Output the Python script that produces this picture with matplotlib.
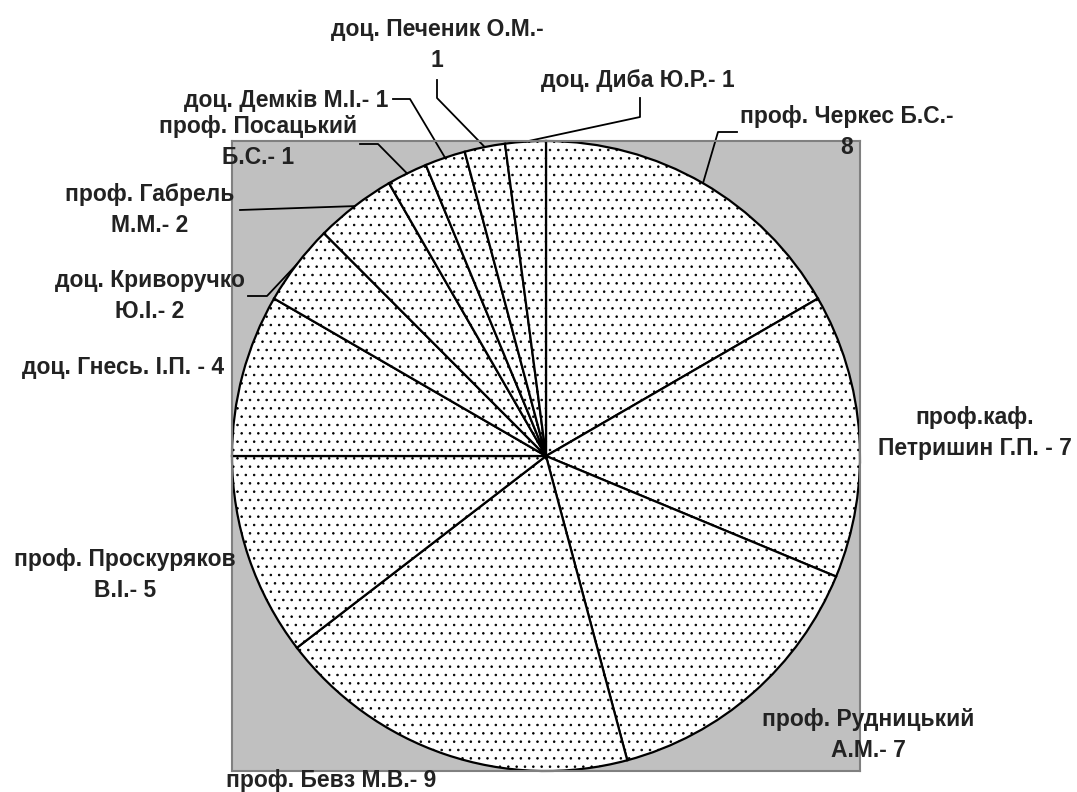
import numpy as np
import matplotlib
matplotlib.use("Agg")
import matplotlib.pyplot as plt

plt.rcParams['font.family'] = ['Liberation Sans', 'DejaVu Sans']
plt.rcParams['hatch.linewidth'] = 0.6

W, H = 1077, 792

names = ["проф. Черкес Б.С.-\n8",
         "проф.каф.\nПетришин Г.П. - 7",
         "проф. Рудницький\nА.М.- 7",
         "проф. Бевз М.В.- 9",
         "проф. Проскуряков\nВ.І.- 5",
         "доц. Гнесь. І.П. - 4",
         "доц. Криворучко\nЮ.І.- 2",
         "проф. Габрель\nМ.М.- 2",
         "проф. Посацький\nБ.С.- 1",
         "доц. Демків М.І.- 1",
         "доц. Печеник О.М.-\n1",
         "доц. Диба Ю.Р.- 1"]
values = [8, 7, 7, 9, 5, 4, 2, 2, 1, 1, 1, 1]

# label centres (pixels from top-left) and leader line points (text end, elbow)
label_pos = [(847, 132), (975, 433), (868, 735), (331, 780), (125, 575), (123, 367),
             (150, 296), (150, 210), (258, 142), (286, 100), (437, 45), (638, 80)]
leaders = {0: [(737, 132), (718, 132)],
           6: [(248, 296), (267, 296)],
           7: [(240, 210)],
           8: [(360, 144), (378, 144)],
           9: [(393, 99), (410, 99)],
           10: [(437, 80), (437, 98)],
           11: [(640, 98), (640, 117)]}

fig = plt.figure(figsize=(W / 100, H / 100), dpi=100)
ax = fig.add_axes([232 / W, 1 - 771 / H, 628 / W, 630 / H])

wedges, _ = ax.pie(values, startangle=90, counterclock=False, radius=1,
                   colors=['white'] * len(values), frame=True,
                   wedgeprops=dict(edgecolor='black', linewidth=1.6, hatch='..'))
ax.set_xlim(-1, 1)
ax.set_ylim(-1, 1)
ax.set_aspect('auto')
ax.set_facecolor('#c0c0c0')
for s in ax.spines.values():
    s.set_visible(True)
    s.set_color('#808080')
    s.set_linewidth(1.5)
ax.set_xticks([])
ax.set_yticks([])

for i, (x, y) in enumerate(label_pos):
    fig.text(x / W, 1 - y / H, names[i], ha='center', va='center',
             fontsize=16.5, fontweight='bold', color='#222222',
             linespacing=1.4)

inv = ax.transData.inverted()
for i, pts in leaders.items():
    w = wedges[i]
    mid = np.deg2rad((w.theta1 + w.theta2) / 2)
    xs, ys = [], []
    for (px, py) in pts:
        dx, dy = inv.transform((px, H - py))
        xs.append(dx)
        ys.append(dy)
    xs.append(np.cos(mid))
    ys.append(np.sin(mid))
    ax.plot(xs, ys, color='black', lw=1.3, clip_on=False)

fig.savefig('out.png', dpi=100)
